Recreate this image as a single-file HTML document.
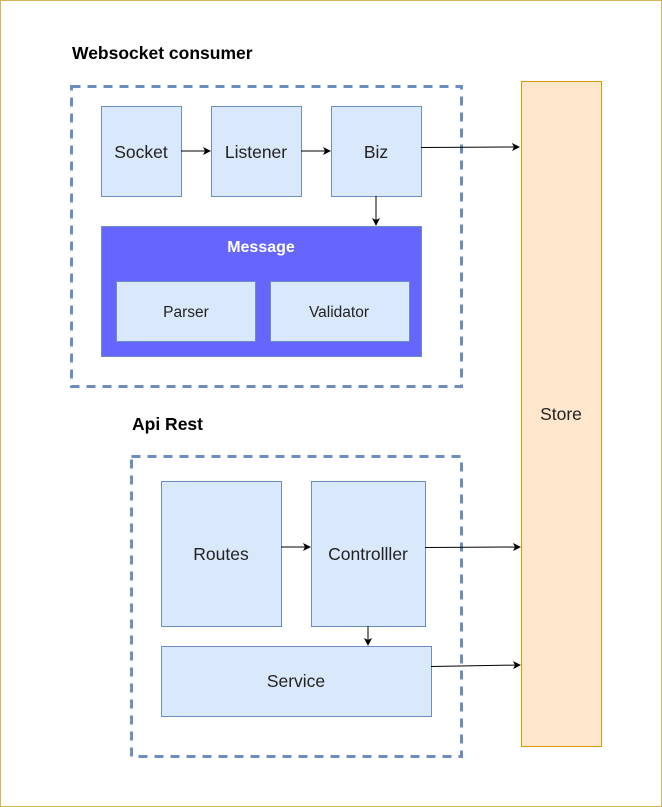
<!DOCTYPE html>
<html><head><style>html,body{margin:0;padding:0;background:#fff}svg{display:block}</style></head><body>
<svg width="662" height="807" xmlns="http://www.w3.org/2000/svg" font-family="Liberation Sans, sans-serif">
<defs><marker id="a" markerWidth="8" markerHeight="8" refX="7" refY="4" orient="auto" markerUnits="userSpaceOnUse"><path d="M0,0 L8,4 L0,8 L2,4 z" fill="#000"/></marker></defs>
<rect x="0.5" y="0.5" width="661" height="806" fill="#fff" stroke="#d6b656"/>
<text x="72" y="59" font-size="17.5" font-weight="bold">Websocket consumer</text>
<rect x="71.5" y="86.5" width="390" height="300" fill="none" stroke="#6c8ebf" stroke-width="3" stroke-dasharray="9,7"/>
<rect x="521.5" y="81.5" width="80" height="665" fill="#ffe6cc" stroke="#d79b00"/>
<text x="561" y="420" font-size="17.5" text-anchor="middle" fill="#222">Store</text>
<g fill="#dae8fc" stroke="#6c8ebf">
<rect x="101.5" y="106.5" width="80" height="90"/>
<rect x="211.5" y="106.5" width="90" height="90"/>
<rect x="331.5" y="106.5" width="90" height="90"/>
</g>
<rect x="101.5" y="226.5" width="320" height="130" fill="#6666ff" stroke="#6c8ebf"/>
<g fill="#dae8fc" stroke="#6c8ebf">
<rect x="116.5" y="281.5" width="139" height="60"/>
<rect x="270.5" y="281.5" width="139" height="60"/>
</g>
<g font-size="17.5" text-anchor="middle" fill="#222">
<text x="141" y="158">Socket</text><text x="256" y="158">Listener</text><text x="376" y="158">Biz</text>
</g>
<text x="261" y="252" font-size="16" font-weight="bold" fill="#fff" text-anchor="middle">Message</text>
<g font-size="15.5" text-anchor="middle" fill="#222"><text x="186" y="317">Parser</text><text x="339" y="317">Validator</text></g>
<g stroke="#000" fill="none" marker-end="url(#a)">
<line x1="181" y1="151" x2="210" y2="151"/><line x1="301" y1="151" x2="330" y2="151"/>
<line x1="421" y1="147.5" x2="519" y2="147"/><line x1="376" y1="196" x2="376" y2="225"/>
</g>
<text x="132" y="430" font-size="17.5" font-weight="bold">Api Rest</text>
<rect x="131.5" y="456.5" width="330" height="300" fill="none" stroke="#6c8ebf" stroke-width="3" stroke-dasharray="9,7"/>
<g fill="#dae8fc" stroke="#6c8ebf">
<rect x="161.5" y="481.5" width="120" height="145"/>
<rect x="311.5" y="481.5" width="114" height="145"/>
<rect x="161.5" y="646.5" width="270" height="70"/>
</g>
<g font-size="17.5" text-anchor="middle" fill="#222">
<text x="221" y="560">Routes</text><text x="368" y="560">Controlller</text><text x="296" y="687">Service</text>
</g>
<g stroke="#000" fill="none" marker-end="url(#a)">
<line x1="281" y1="547" x2="310" y2="547"/><line x1="425" y1="547.5" x2="520" y2="547"/>
<line x1="368" y1="626" x2="368" y2="645"/><line x1="431" y1="666.5" x2="520" y2="665"/>
</g>
</svg>
</body></html>
